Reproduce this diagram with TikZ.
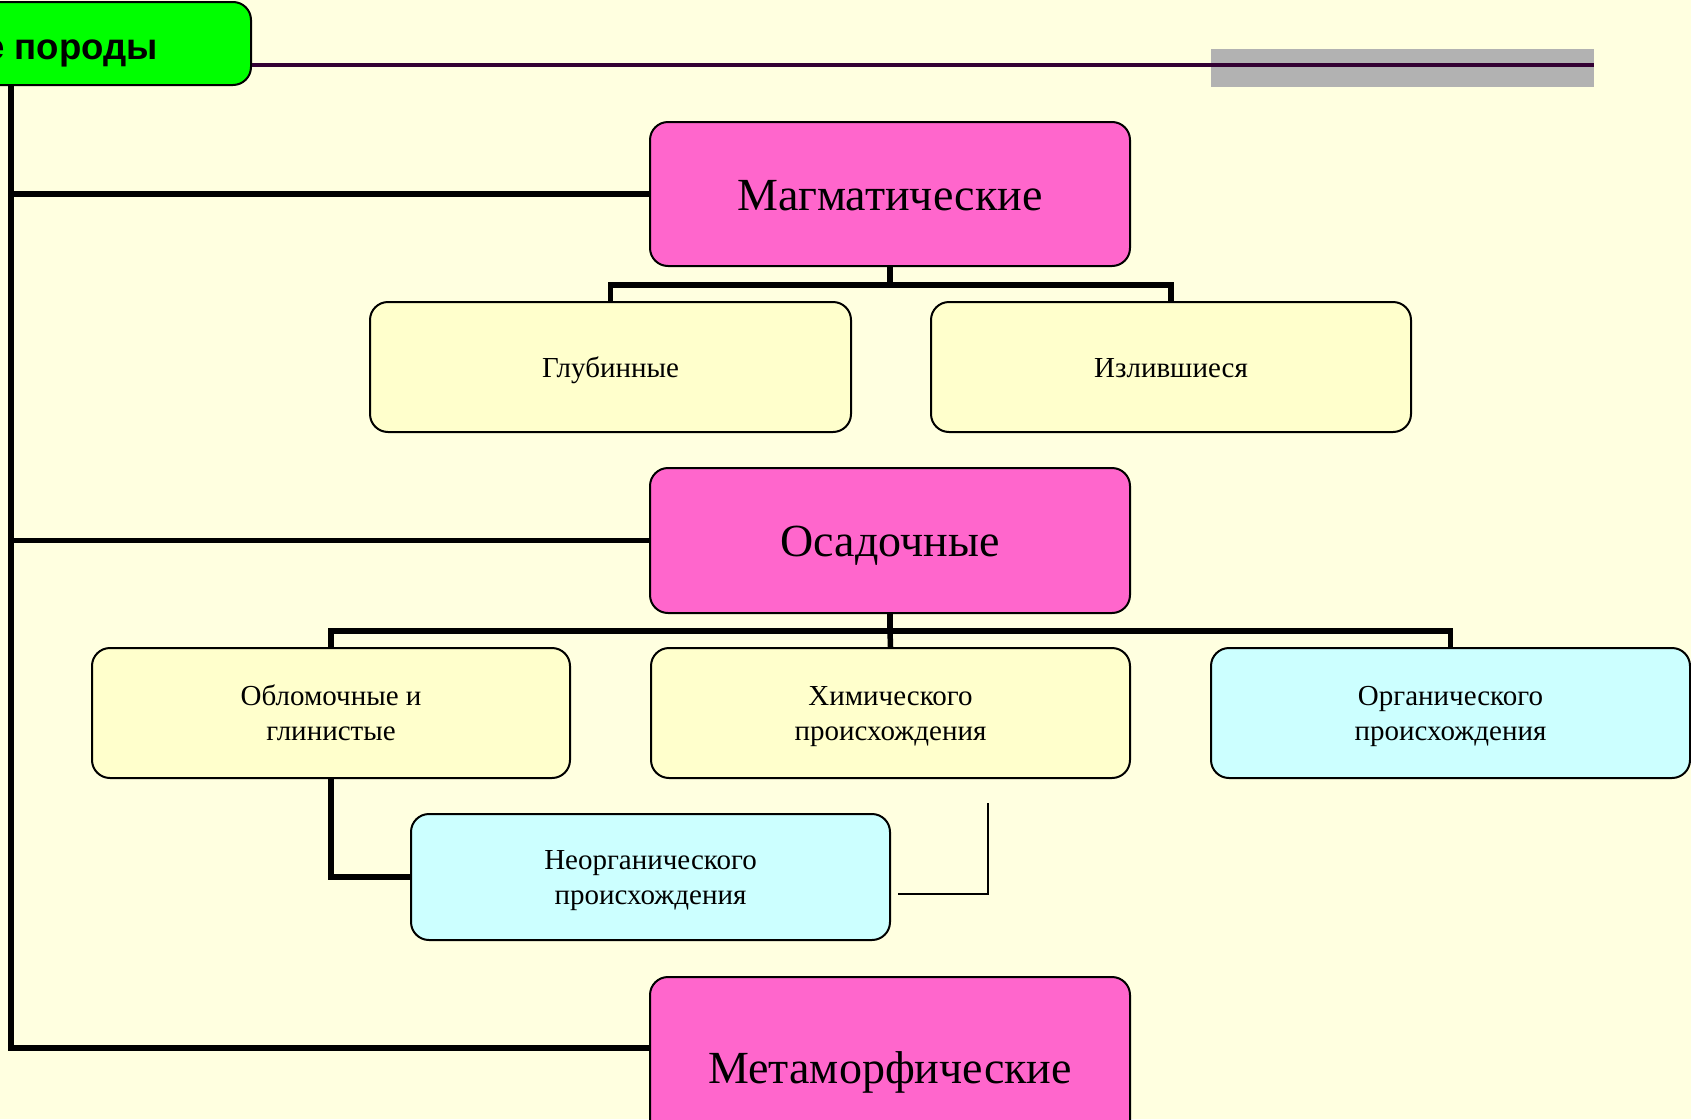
\documentclass[tikz,border=0pt]{standalone}
\usepackage{fontspec}
\setmainfont{Liberation Serif}
\newfontfamily\headsans{Liberation Sans}
\definecolor{bgcol}{HTML}{FFFFE0}
\definecolor{pinkfill}{HTML}{FF66CC}
\definecolor{yellowfill}{HTML}{FFFFCC}
\definecolor{cyanfill}{HTML}{CCFFFF}
\definecolor{greenfill}{HTML}{00FF00}
\definecolor{topline}{HTML}{330033}
\definecolor{grayband}{HTML}{B2B2B2}
\newcommand\smstrut{\rule[-7.5pt]{0pt}{35pt}}
\newcommand\bgstrut{\rule[-9pt]{0pt}{50pt}}
\tikzset{
  box/.style={draw=black, rounded corners=18pt, line width=2pt, inner sep=0pt, align=center},
  bigbox/.style={box, fill=pinkfill, minimum width=480pt, font=\fontsize{46}{52}\selectfont},
  smallbox/.style={box, minimum width=479pt, minimum height=130pt, font=\fontsize{29}{35}\selectfont},
  conn/.style={line width=5.5pt, draw=black},
  thinline/.style={line width=2pt, draw=black}
}
\begin{document}
\begin{tikzpicture}[x=1pt,y=-1pt]
\useasboundingbox (0,0) rectangle (1691,1119);
\clip (0,0) rectangle (1691,1119);
\fill[bgcol] (0,0) rectangle (1691,1119);
% top band
\fill[grayband] (1211,48.5) rectangle (1594,86.5);
\node[box, fill=greenfill, minimum width=291pt, minimum height=83pt] (rocks) at (105.5,43.5) {};
\node[anchor=base east, inner sep=0pt, font=\headsans\bfseries\fontsize{36.6}{42}\selectfont] (rockstext) at (158,59) {е породы};
\coordinate (lineend) at (1594,65);
\draw[line width=4pt, topline] (rocks.east |- lineend) -- (lineend);
% main boxes
\node[bigbox, minimum height=144pt] (magm) at (890,194) {\bgstrut Магматические};
\node[bigbox, minimum height=145pt] (osad) at (890,540.5) {\bgstrut Осадочные};
\node[bigbox, minimum height=182pt] (meta) at (890,1068) {\bgstrut Метаморфические};
% sub boxes
\node[smallbox, fill=yellowfill, minimum width=481pt] (glub) at (610.5,367) {\smstrut Глубинные};
\node[smallbox, fill=yellowfill, minimum width=480pt] (izl) at (1171,367) {\smstrut Излившиеся};
\node[smallbox, fill=yellowfill, minimum width=478pt] (oblom) at (331,713) {\smstrut Обломочные и\\\smstrut глинистые};
\node[smallbox, fill=yellowfill] (chem) at (890.5,713) {\smstrut Химического\\\smstrut происхождения};
\node[smallbox, fill=cyanfill] (org) at (1450.5,713) {\smstrut Органического\\\smstrut происхождения};
\node[smallbox, fill=cyanfill, minimum height=126pt] (neorg) at (650.5,877) {\smstrut Неорганического\\\smstrut происхождения};
% trunk
\coordinate (trunk) at (11,85);
\coordinate (trunkend) at (11,1048);
\draw[conn] (trunk) -- (trunkend) -- (trunkend -| meta.west);
\draw[conn] (magm.west) -- (magm.west -| trunk);
\draw[conn] (osad.west) -- (osad.west -| trunk);
% magmatic children
\draw[conn] (magm.south) -- ++(0,18) coordinate (mbus);
\draw[conn] (glub.north) |- (mbus) -| (izl.north);
% sedimentary children
\draw[conn] (osad.south) -- ++(0,17) coordinate (obus);
\draw[conn] (oblom.north) |- (obus) -| (org.north);
\draw[conn] (obus) -- (chem.north);
\draw[conn] (oblom.south) |- (neorg.west);
% stray thin line
\coordinate (s1) at (898,894);
\coordinate (s2) at (988,894);
\coordinate (s3) at (988,803);
\draw[thinline] (s1) -- (s2) -- (s3);
\end{tikzpicture}
\end{document}
